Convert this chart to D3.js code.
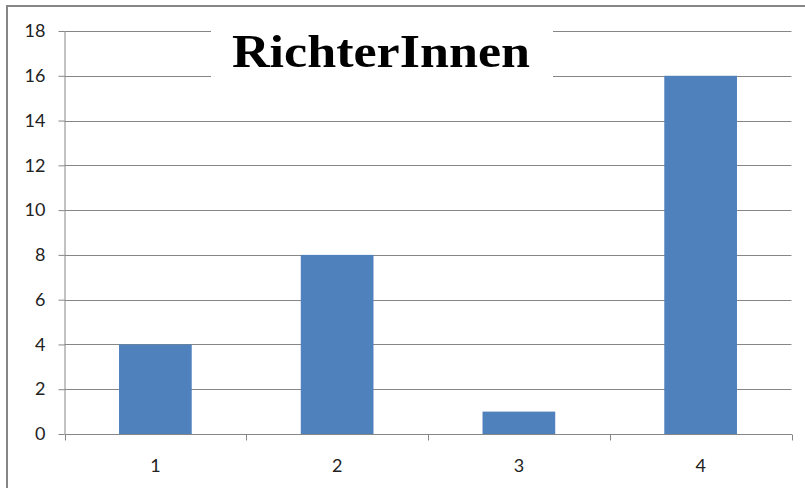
<!DOCTYPE html>
<html><head><meta charset="utf-8">
<script src="https://cdn.jsdelivr.net/npm/d3@7"></script>
<style>body{margin:0;background:#fff}svg{display:block}</style>
</head><body>
<svg id="c" width="805" height="488"></svg>
<script>
const categories = ["1","2","3","4"];
const values = [4, 8, 1, 16];
const yTicks = [0,2,4,6,8,10,12,14,16,18];
const title = "RichterInnen";

const svg = d3.select("#c");
const W = 805, H = 488;
const m = {left:64.5, right:791.5, top:31, bottom:434};
const grid = "#868686";

svg.append("rect").attr("x",0).attr("y",0).attr("width",W).attr("height",H).attr("fill","#fff");
svg.append("rect").attr("x",7).attr("y",6).attr("width",W+20).attr("height",H+20)
  .attr("fill","none").attr("stroke",grid).attr("stroke-width",2);

const x = d3.scaleBand().domain(categories).range([m.left, m.right]);
const y = d3.scaleLinear().domain([0,18]).range([m.bottom, m.top]);

// gridlines
svg.append("g").selectAll("line").data(yTicks.filter(d=>d>0)).join("line")
  .attr("x1",m.left).attr("x2",m.right)
  .attr("y1",d=>Math.round(y(d))+0.5).attr("y2",d=>Math.round(y(d))+0.5)
  .attr("stroke",grid).attr("stroke-width",1);

// bars
const bw = x.bandwidth()*0.4;
svg.append("g").selectAll("rect").data(values).join("rect")
  .attr("x",(d,i)=>x(categories[i])+x.bandwidth()/2-bw/2)
  .attr("width",bw)
  .attr("y",d=>y(d)).attr("height",d=>y(0)-y(d))
  .attr("fill","#4F81BD");

// y axis
const ya = svg.append("g").attr("transform",`translate(${m.left},0)`)
  .call(d3.axisLeft(y).tickValues(yTicks).tickSize(6).tickPadding(13).tickFormat(d3.format("d")));
ya.select(".domain").attr("stroke",grid).attr("d",`M0.5,${m.top}V${m.bottom}`);
ya.selectAll(".tick line").attr("stroke",grid);
ya.selectAll("text").attr("font-family","Lato, 'Open Sans', sans-serif").attr("font-size",18).attr("fill","#222");

// x axis
const xa = svg.append("g").attr("transform",`translate(0,${Math.round(y(0))+0.5})`);
xa.append("line").attr("x1",m.left).attr("x2",m.right+0.5).attr("stroke",grid);
const bounds = categories.map(c=>x(c)).concat([m.right]);
xa.selectAll("line.t").data(bounds).join("line").attr("class","t")
  .attr("x1",d=>Math.round(d)+0.5).attr("x2",d=>Math.round(d)+0.5).attr("y1",0).attr("y2",6).attr("stroke",grid);
xa.selectAll("text").data(categories).join("text")
  .attr("x",d=>x(d)+x.bandwidth()/2).attr("y",37).attr("text-anchor","middle")
  .attr("font-family","Lato, 'Open Sans', sans-serif").attr("font-size",18).attr("fill","#222")
  .text(d=>d);

// title
svg.append("rect").attr("x",211).attr("y",18).attr("width",342).attr("height",66).attr("fill","#fff");
svg.append("text").attr("x",232).attr("y",67)
  .attr("font-family","'Liberation Serif', serif").attr("font-weight","bold").attr("font-size",47)
  .attr("textLength",298).attr("lengthAdjust","spacingAndGlyphs").attr("fill","#000").text(title);
</script>
</body></html>
